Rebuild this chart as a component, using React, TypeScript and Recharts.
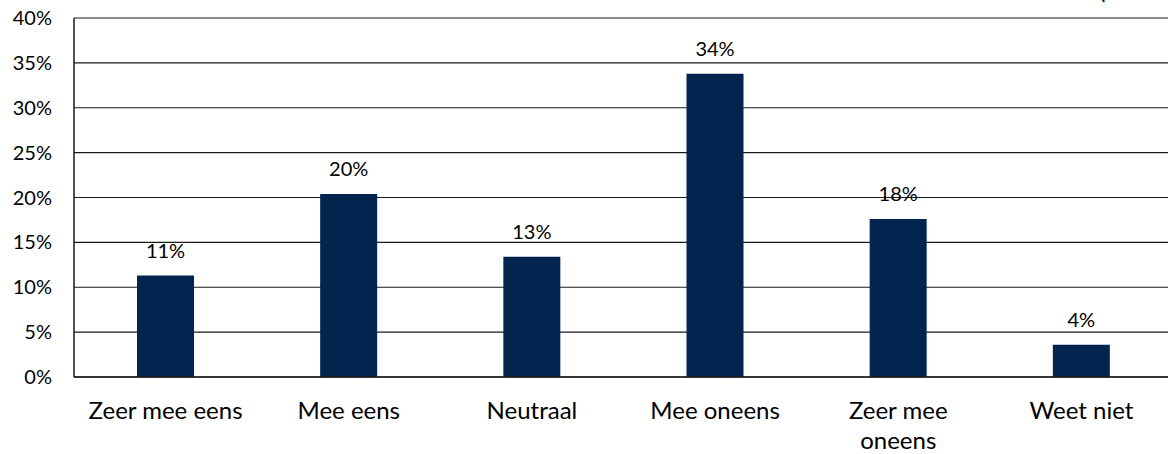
import React from "react";
import { BarChart, Bar, XAxis, YAxis, CartesianGrid, LabelList } from "recharts";

// Antwoordcategorieën en aandelen (in %)
const categories = ["Zeer mee eens", "Mee eens", "Neutraal", "Mee oneens", "Zeer mee oneens", "Weet niet"];
const shares = [11.3, 20.4, 13.4, 33.8, 17.6, 3.6];
const shareLabels = ["11%", "20%", "13%", "34%", "18%", "4%"];
const yTicks = [0, 5, 10, 15, 20, 25, 30, 35, 40];

const data = categories.map((name, i) => ({ name, value: shares[i], label: shareLabels[i] }));

const FONT = "Lato, 'Open Sans', sans-serif";

// simpele woordafbreking op aantal tekens
const wrapWords = (s: string, max = 13) => {
  const lines: string[] = [];
  let cur = "";
  s.split(" ").forEach((w) => {
    const next = cur ? `${cur} ${w}` : w;
    if (next.length > max && cur) {
      lines.push(cur);
      cur = w;
    } else cur = next;
  });
  if (cur) lines.push(cur);
  return lines;
};

const CategoryTick = ({ x, y, payload }: any) => (
  <text x={x} y={y} textAnchor="middle" fill="#000" style={{ fontFamily: FONT, fontSize: 24 }}>
    {wrapWords(String(payload.value)).map((line, i) => (
      <tspan key={i} x={x} dy={i === 0 ? 17 : 30}>
        {line}
      </tspan>
    ))}
  </text>
);

export default function App() {
  return (
    <div
      style={{
        position: "absolute",
        left: 0,
        top: 0,
        width: 1168,
        height: 454,
        overflow: "hidden",
        background: "#fff",
        fontFamily: FONT,
      }}
    >
      <span
        style={{ position: "absolute", left: 1099, top: -22, fontSize: 24, color: "#000", lineHeight: "24px" }}
      >
        (
      </span>
      <BarChart
        width={1180}
        height={454}
        data={data}
        margin={{ top: 18, right: 7, bottom: 0, left: 0 }}
        barCategoryGap={0}
      >
        <CartesianGrid vertical={false} stroke="#1a1a1a" strokeWidth={1.2} />
        <XAxis
          dataKey="name"
          height={77}
          axisLine={{ stroke: "#1a1a1a", strokeWidth: 1.5 }}
          tickLine={false}
          tickSize={0}
          tickMargin={25}
          interval={0}
          tick={<CategoryTick />}
        />
        <YAxis
          width={74}
          domain={[0, 40]}
          ticks={yTicks}
          interval={0}
          axisLine={{ stroke: "#1a1a1a", strokeWidth: 1.5 }}
          tickLine={false}
          tickSize={0}
          tickMargin={22}
          tickFormatter={(v: number) => `${v}%`}
          tick={{ fill: "#000", fontSize: 20, fontFamily: FONT }}
        />
        <Bar dataKey="value" fill="#02244F" barSize={57} isAnimationActive={false}>
          <LabelList
            dataKey="label"
            position="top"
            offset={18}
            fill="#000"
            style={{ fontFamily: FONT, fontSize: 20 }}
          />
        </Bar>
      </BarChart>
    </div>
  );
}
